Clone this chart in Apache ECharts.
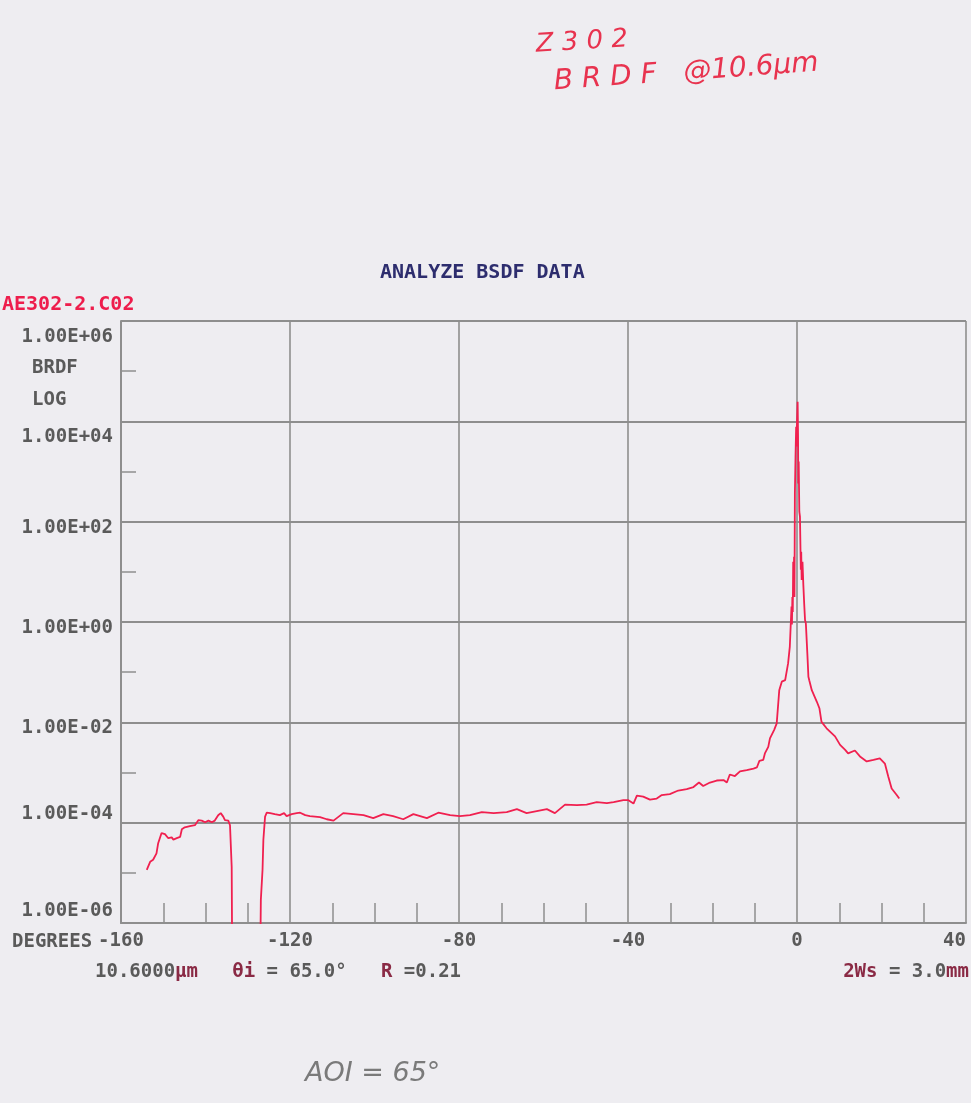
<!DOCTYPE html>
<html>
<head>
<meta charset="utf-8">
<script src="https://cdn.jsdelivr.net/npm/echarts@6/dist/echarts.min.js"></script>
<style>
html,body{margin:0;padding:0;background:#eeedf1;}
#c{width:971px;height:1103px;}
</style>
</head>
<body>
<div id="c"></div>
<script>
// Scattering angle (degrees)
const angles = [
  -153.9,-153.1,-152.4,-151.6,-151.2,-150.4,-149.6,-148.8,-148.0,-147.6,-146.8,-146.0,-145.6,-144.9,-143.7,-142.5,
  -141.7,-140.9,-140.1,-139.3,-138.5,-137.8,-137.0,-136.4,-135.8,-135.4,-134.6,-134.2,-133.8,-133.6,
  -127.2,-126.9,-126.5,-126.3,-125.9,-125.5,-124.7,-123.6,-122.4,-121.4,-120.8,-119.6,-118.4,-117.6,-116.4,
  -115.3,-112.9,-111.3,-109.7,-107.4,-105.0,-102.6,-100.3,-97.9,-95.6,-93.2,-90.8,-87.6,-84.9,-82.1,-79.8,
  -77.4,-74.6,-71.8,-68.7,-66.3,-64.0,-61.6,-59.2,-57.3,-54.9,-52.1,-49.8,-47.4,-45.0,-43.4,-41.1,-40.0,
  -38.7,-37.9,-36.4,-34.8,-33.2,-32.0,-30.1,-28.1,-26.1,-24.5,-23.2,-22.2,-20.6,-19.0,-17.4,-16.6,-15.9,
  -14.7,-13.5,-11.9,-10.3,-9.5,-8.9,-8.0,-7.6,-6.8,-6.4,-5.4,-4.8,-4.2,-3.6,-2.8,-2.1,-1.7,
  -1.3,-1.2,-1.1,-1.0,-0.9,-0.8,-0.7,-0.6,-0.5,-0.35,-0.2,-0.1,0.0,0.15,0.25,0.3,0.4,0.55,0.7,0.9,1.0,
  1.1,1.3,1.5,1.7,1.9,2.1,2.45,2.7,2.9,3.5,3.7,4.7,5.3,5.8,7.0,9.0,10.2,11.4,12.1,13.7,14.9,16.5,18.1,
  19.6,20.8,21.6,22.4,23.6,24.2
];
// BRDF values (sr^-1)
const brdf = [
  1.15e-5,1.66e-5,1.82e-5,2.45e-5,3.9e-5,6.2e-5,5.9e-5,4.9e-5,5.1e-5,4.6e-5,4.9e-5,5.2e-5,7.4e-5,8.1e-5,8.5e-5,8.9e-5,
  1.12e-4,1.10e-4,1.02e-4,1.10e-4,1.02e-4,1.10e-4,1.41e-4,1.55e-4,1.32e-4,1.12e-4,1.10e-4,8.9e-5,1.3e-5,1e-8,
  1e-8,2.9e-6,1.15e-5,4.6e-5,1.32e-4,1.58e-4,1.55e-4,1.48e-4,1.41e-4,1.55e-4,1.35e-4,1.48e-4,1.55e-4,1.58e-4,1.41e-4,
  1.35e-4,1.29e-4,1.17e-4,1.10e-4,1.55e-4,1.48e-4,1.41e-4,1.23e-4,1.48e-4,1.35e-4,1.17e-4,1.48e-4,1.23e-4,1.58e-4,1.41e-4,1.35e-4,
  1.41e-4,1.62e-4,1.55e-4,1.62e-4,1.86e-4,1.55e-4,1.70e-4,1.86e-4,1.55e-4,2.29e-4,2.24e-4,2.29e-4,2.57e-4,2.45e-4,2.57e-4,2.82e-4,2.82e-4,
  2.40e-4,3.47e-4,3.31e-4,2.88e-4,3.02e-4,3.55e-4,3.72e-4,4.37e-4,4.68e-4,5.13e-4,6.31e-4,5.37e-4,6.31e-4,6.92e-4,7.08e-4,6.31e-4,9.12e-4,
  8.51e-4,1.05e-3,1.12e-3,1.20e-3,1.26e-3,1.70e-3,1.78e-3,2.40e-3,3.24e-3,4.79e-3,7.08e-3,9.55e-3,0.0437,0.0646,0.0692,0.151,0.324,
  2.04,0.89,3.16,1.58,15.8,3.98,20,3.16,372,2000,7760,3160,1.0e4,2.45e4,5000,575,1580,158,126,11,25,
  6.9,15.8,5.5,2.34,1.1,0.93,0.234,0.081,0.069,0.0437,0.0407,0.0257,0.0191,0.0102,7.6e-3,5.25e-3,3.55e-3,2.82e-3,2.40e-3,2.75e-3,2.09e-3,1.66e-3,1.78e-3,
  1.91e-3,1.51e-3,8.3e-4,4.79e-4,3.55e-4,3.02e-4
];
const xTicks = [-160, -120, -80, -40, 0, 40];
const xTickLabels = ['-160', '-120', '-80', '-40', '0', '40'];
const yTickExponents = [-6, -4, -2, 0, 2, 4, 6];
const yTickLabels = ['1.00E-06', '1.00E-04', '1.00E-02', '1.00E+00', '1.00E+02', '1.00E+04', '1.00E+06'];

const mono = '"DejaVu Sans Mono", "Liberation Mono", monospace';
const grey = '#5a5a5a';
const maroon = '#8a2a45';
const gridCol = '#8e8e8e';
const lblFont = 'bold 19px ' + mono;

// label vertical nudges (rich padding styles) to mimic the plotter's placement
const yLabelStyle = ['up12', 'up9', 'dn6', 'dn6', 'dn6', 'dn16', 'dn16'];

const chart = echarts.init(document.getElementById('c'), null, {renderer: 'canvas'});
const seriesData = angles.map((a, i) => [a, brdf[i]]);

chart.setOption({
  backgroundColor: '#eeedf1',
  animation: false,
  grid: {left: 121, right: 5, top: 321, bottom: 180, containLabel: false},
  xAxis: {
    type: 'value', min: -160, max: 40, interval: 40,
    axisLine: {show: true, onZero: false, lineStyle: {color: gridCol, width: 2}},
    axisTick: {show: false, inside: true},
    minorTick: {show: true, splitNumber: 4, length: 20, lineStyle: {color: gridCol, width: 1.5}},
    splitLine: {show: true, lineStyle: {color: gridCol, width: 1.6}},
    axisLabel: {
      margin: 9, color: grey, fontFamily: mono, fontSize: 19, fontWeight: 'bold',
      alignMaxLabel: 'right',
      formatter: v => { const i = xTicks.indexOf(Math.round(v)); return i >= 0 ? xTickLabels[i] : ''; }
    }
  },
  yAxis: [{
    type: 'log', logBase: 10, min: 1e-6, max: 1e6, interval: 2, position: 'left',
    axisLine: {show: true, onZero: false, lineStyle: {color: gridCol, width: 2}},
    axisTick: {show: false},
    splitLine: {show: true, lineStyle: {color: gridCol, width: 2}},
    axisLabel: {
      margin: 8, color: grey, fontFamily: mono, fontSize: 19, fontWeight: 'bold',
      formatter: v => {
        const e = Math.round(Math.log10(v));
        const i = yTickExponents.indexOf(e);
        return i >= 0 ? '{' + yLabelStyle[i] + '|' + yTickLabels[i] + '}' : '';
      },
      rich: {
        up12: {font: lblFont, color: grey, padding: [0, 0, 24, 0]},
        up9: {font: lblFont, color: grey, padding: [0, 0, 18, 0]},
        dn6: {font: lblFont, color: grey, padding: [12, 0, 0, 0]},
        dn16: {font: lblFont, color: grey, padding: [32, 0, 0, 0]}
      }
    }
  }, {
    // per-decade tick marks on the left edge (even decades coincide with grid lines)
    type: 'log', logBase: 10, min: 1e-6, max: 1e6, interval: 1, position: 'left', offset: 0,
    axisLine: {show: false, onZero: false},
    axisTick: {show: true, inside: true, length: 15, lineStyle: {color: gridCol, width: 1.5}},
    splitLine: {show: false},
    axisLabel: {show: false}
  }],
  series: [{
    type: 'line', data: seriesData, showSymbol: false, clip: true, yAxisIndex: 0,
    lineStyle: {color: '#f0204f', width: 1.8}
  }],
  graphic: [
    {type: 'text', left: 380, top: 263, style: {text: 'ANALYZE BSDF DATA', fill: '#2d2d6e', font: 'bold 20px ' + mono}},
    {type: 'text', left: 2, top: 295, style: {text: 'AE302-2.C02', fill: '#ee1d4c', font: 'bold 20px ' + mono}},
    {type: 'text', left: 32, top: 359, style: {text: 'BRDF', fill: grey, font: lblFont}},
    {type: 'text', left: 32, top: 391, style: {text: 'LOG', fill: grey, font: lblFont}},
    {type: 'text', left: 12, top: 933, style: {text: 'DEGREES', fill: grey, font: lblFont}},
    {type: 'text', left: 95, top: 963, style: {
      text: '{g|10.6000}{m|µm   θi}{g| = 65.0°   }{m|R}{g| =0.21}',
      rich: {
        g: {fill: grey, font: lblFont},
        m: {fill: maroon, font: lblFont}
      }
    }},
    {type: 'text', right: 2, top: 963, style: {
      text: '{m|2Ws}{g| = 3.0}{m|mm}',
      rich: {
        g: {fill: grey, font: lblFont},
        m: {fill: maroon, font: lblFont}
      }
    }},
    {type: 'text', x: 535, y: 32, rotation: 0.06, style: {text: 'Z 3 0 2', fill: '#e8334f', font: 'italic 26px "DejaVu Sans"'}},
    {type: 'text', x: 553, y: 68, rotation: 0.07, style: {text: 'B R D F   @10.6µm', fill: '#e8334f', font: 'italic 28px "DejaVu Sans"'}},
    {type: 'text', x: 305, y: 1060, style: {text: 'AOI = 65°', fill: '#7a7a7a', font: 'italic 27px "DejaVu Sans"'}}
  ]
});
</script>
</body>
</html>
